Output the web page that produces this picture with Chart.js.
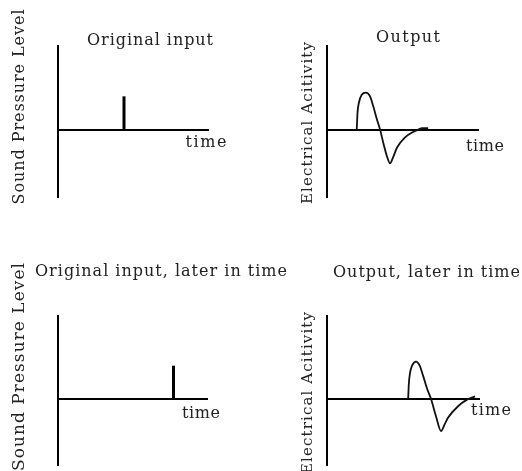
<!DOCTYPE html>
<html><head><meta charset="utf-8">
<script src="https://cdn.jsdelivr.net/npm/chart.js@4.4.1/dist/chart.umd.min.js"></script>
<style>
html,body{margin:0;padding:0;background:#fff;width:522px;height:471px;overflow:hidden;}
.p{position:absolute;}
canvas{display:block;}
</style></head><body>
<div class="p" style="left:0;top:0"><canvas id="c1" width="261" height="235"></canvas></div>
<div class="p" style="left:261px;top:0"><canvas id="c2" width="261" height="235"></canvas></div>
<div class="p" style="left:0;top:235px"><canvas id="c3" width="300" height="236"></canvas></div>
<div class="p" style="left:261px;top:235px"><canvas id="c4" width="261" height="236"></canvas></div>
<script>
// ---- data ----
const inputSpikeTimes = [4.4, 7.75];
const inputSpikeHeights = [0.40, 0.40];
const outputTimes  = [1.97, 2.02, 2.12, 2.3, 2.58, 2.85, 3.05, 3.3, 3.52, 3.75, 3.98, 4.17, 4.37, 4.64, 5.17, 5.7, 6.0, 6.3, 6.7];
const outputValues = [0, 0.2, 0.33, 0.42, 0.445, 0.40, 0.29, 0.13, 0, -0.17, -0.32, -0.40, -0.33, -0.21, -0.09, -0.025, 0, 0.02, 0.02];
const outputLaterTimes  = [5.34, 5.38, 5.46, 5.62, 5.86, 6.1, 6.32, 6.58, 6.84, 7.17, 7.5, 7.76, 7.96, 8.62, 9.21, 9.74];
const outputLaterValues = [0, 0.17, 0.31, 0.41, 0.45, 0.40, 0.28, 0.125, 0, -0.21, -0.39, -0.30, -0.23, -0.09, -0.01, 0.03];
const panelTitles = ["Original input", "Output", "Original input, later in time", "Output, later in time"];
const yAxisTitles = ["Sound Pressure Level", "Electrical Acitivity", "Sound Pressure Level", "Electrical Acitivity"];
const xAxisTitle = "time";
const timeRange = [0, 10];
const levelRange = [-0.8, 1.0];

// ---- helpers ----
const FONT_FAMILY = '"DejaVu Serif", "Liberation Serif", serif';
const INK = '#222';

function spikeData(i) {
  return [{x: inputSpikeTimes[i], y: 0}, {x: inputSpikeTimes[i], y: inputSpikeHeights[i]}];
}
function waveData(ts, vs) {
  return ts.map((t, k) => ({x: t, y: vs[k]}));
}

// draw text spread to a given total width (character by character)
function drawSpread(ctx, text, x, y, align, width) {
  const chars = Array.from(text);
  const ws = chars.map(c => ctx.measureText(c).width);
  const natural = ws.reduce((a, b) => a + b, 0);
  const gap = chars.length > 1 ? (width - natural) / (chars.length - 1) : 0;
  let cx = align === 'center' ? x - width / 2 : align === 'right' ? x - width : x;
  ctx.textAlign = 'left';
  chars.forEach((c, k) => { ctx.fillText(c, cx, y); cx += ws[k] + gap; });
}

const labelPlugin = {
  id: 'panelLabels',
  afterDraw(chart, args, o) {
    const ctx = chart.ctx;
    ctx.save();
    ctx.fillStyle = INK;
    ctx.textBaseline = 'middle';
    ctx.font = '16px ' + FONT_FAMILY;
    drawSpread(ctx, o.title, o.titleX, o.titleY, o.titleAlign, o.titleW);
    drawSpread(ctx, xAxisTitle, o.timeX, o.timeY, 'center', o.timeW);
    ctx.font = (o.ySize || 16) + 'px ' + FONT_FAMILY;
    ctx.translate(o.yX, o.yY);
    ctx.rotate(-Math.PI / 2);
    drawSpread(ctx, o.yTitle, 0, 0, o.yAlign, o.yW);
    ctx.restore();
  }
};

function makeChart(id, datasets, pad, lab) {
  return new Chart(document.getElementById(id), {
    type: 'scatter',
    data: {datasets},
    options: {
      responsive: false,
      animation: false,
      devicePixelRatio: 1,
      layout: {padding: pad},
      scales: {
        x: {
          type: 'linear', min: timeRange[0], max: timeRange[1],
          position: {y: 0},
          grid: {display: false, drawTicks: false},
          ticks: {display: false},
          border: {display: true, color: '#000', width: 2}
        },
        y: {
          type: 'linear', min: levelRange[0], max: levelRange[1],
          position: 'left',
          grid: {display: false, drawTicks: false},
          ticks: {display: false},
          border: {display: true, color: '#000', width: 2}
        }
      },
      plugins: {
        legend: {display: false},
        tooltip: {enabled: false},
        panelLabels: lab
      },
      elements: {point: {radius: 0, hoverRadius: 0}}
    },
    plugins: [labelPlugin]
  });
}

const spikeStyle = {showLine: true, borderColor: '#000', borderWidth: 3, borderCapStyle: 'butt', pointRadius: 0, clip: false};
const waveStyle = {showLine: true, borderColor: '#111', borderWidth: 1.8, pointRadius: 0, cubicInterpolationMode: 'monotone', clip: false};

makeChart('c1', [Object.assign({label: 'input', data: spikeData(0)}, spikeStyle)],
  {left: 58, right: 53, top: 46, bottom: 38},
  {title: panelTitles[0], titleAlign: 'center', titleX: 150, titleY: 41, titleW: 126,
   timeX: 206, timeY: 143, timeW: 41,
   yTitle: yAxisTitles[0], yX: 20, yY: 107, yAlign: 'center', yW: 195});

makeChart('c2', [Object.assign({label: 'output', data: waveData(outputTimes, outputValues)}, waveStyle)],
  {left: 66, right: 44, top: 46, bottom: 38},
  {title: panelTitles[1], titleAlign: 'center', titleX: 147, titleY: 38, titleW: 64,
   timeX: 224, timeY: 147, timeW: 38,
   yTitle: yAxisTitles[1], yX: 47, yY: 123, yAlign: 'center', yW: 162, ySize: 15});

makeChart('c3', [Object.assign({label: 'input later', data: spikeData(1)}, spikeStyle)],
  {left: 58, right: 93, top: 81, bottom: 6},
  {title: panelTitles[2], titleAlign: 'left', titleX: 35, titleY: 37, titleW: 252,
   timeX: 201, timeY: 179, timeW: 38,
   yTitle: yAxisTitles[2], yX: 20, yY: 28, yAlign: 'right', yW: 208, ySize: 17});

makeChart('c4', [Object.assign({label: 'output later', data: waveData(outputLaterTimes, outputLaterValues)}, waveStyle)],
  {left: 66, right: 43, top: 81, bottom: 6},
  {title: panelTitles[3], titleAlign: 'left', titleX: 72, titleY: 38, titleW: 187,
   timeX: 230, timeY: 176, timeW: 40,
   yTitle: yAxisTitles[3], yX: 47, yY: 77, yAlign: 'right', yW: 162, ySize: 15});
</script>
</body></html>
